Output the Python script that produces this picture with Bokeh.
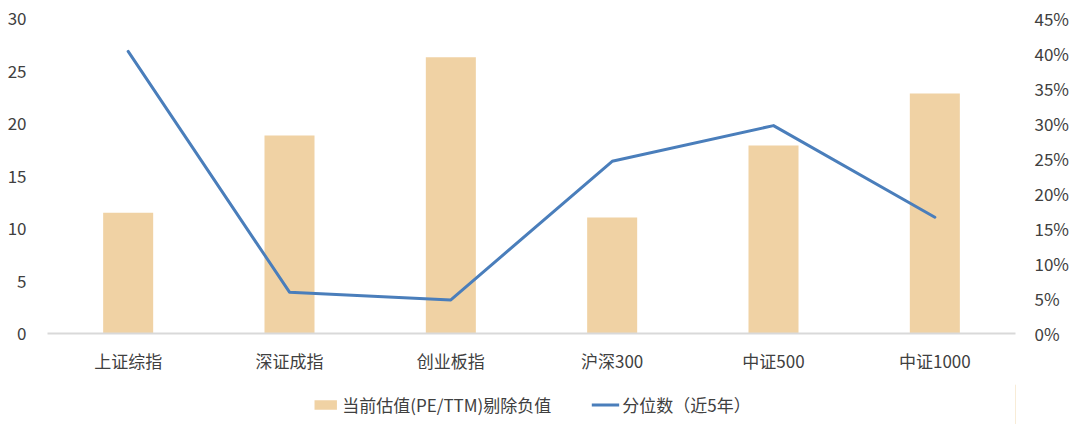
from bokeh.plotting import figure
from bokeh.layouts import column
from bokeh.models import (ColumnDataSource, Range1d, LinearAxis, FactorRange,
                          Legend, LegendItem, NumeralTickFormatter, FixedTicker)
from bokeh.embed import file_html
from bokeh.resources import INLINE

categories = ["上证综指", "深证成指", "创业板指", "沪深300", "中证500", "中证1000"]
pe_ttm = [11.5, 18.85, 26.3, 11.05, 17.9, 22.85]
percentile = [0.403, 0.059, 0.048, 0.246, 0.297, 0.166]
left_ticks = [0, 5, 10, 15, 20, 25, 30]
right_ticks = [0, 0.05, 0.10, 0.15, 0.20, 0.25, 0.30, 0.35, 0.40, 0.45]
bar_label = "当前估值(PE/TTM)剔除负值"
line_label = "分位数（近5年）"

FONT = "Noto Sans CJK SC"
BAR_COLOR = "#F0D2A4"
LINE_COLOR = "#4A7EBB"
TEXT_COLOR = "#404040"

src = ColumnDataSource(dict(cat=categories, pe=pe_ttm, pct=percentile))

p = figure(width=1072, height=384, x_range=FactorRange(*categories, range_padding=0),
           y_range=Range1d(0, 30), output_backend="svg", toolbar_location=None,
           min_border_left=47, min_border_right=56, min_border_top=18, min_border_bottom=51)
p.x_range.factor_padding = 0
p.extra_y_ranges = {"pct": Range1d(0, 0.45)}

bars = p.vbar(x="cat", top="pe", width=0.31, source=src, fill_color=BAR_COLOR, line_color=None)
line = p.line(x="cat", y="pct", source=src, y_range_name="pct", line_color=LINE_COLOR,
              line_width=3, line_join="round", line_cap="round")

p.yaxis.ticker = FixedTicker(ticks=left_ticks)
right = LinearAxis(y_range_name="pct", ticker=FixedTicker(ticks=right_ticks),
                   formatter=NumeralTickFormatter(format="0%"))
p.add_layout(right, "right")

for ax in [p.yaxis[0], right]:
    ax.axis_line_color = None
    ax.major_tick_line_color = None
    ax.minor_tick_line_color = None
    ax.major_label_text_font = FONT
    ax.major_label_text_font_size = "17px"
    ax.major_label_text_color = TEXT_COLOR
p.yaxis[0].major_label_standoff = 15
right.major_label_standoff = 13

p.xaxis.axis_line_color = "#D9D9D9"
p.xaxis.axis_line_width = 2
p.xaxis.major_tick_line_color = None
p.xaxis.minor_tick_line_color = None
p.xaxis.major_label_text_font = FONT
p.xaxis.major_label_text_font_size = "17px"
p.xaxis.major_label_text_color = TEXT_COLOR
p.xaxis.major_label_standoff = 14
p.xaxis.major_tick_in = 0
p.xaxis.major_tick_out = 0

p.xgrid.grid_line_color = None
p.ygrid.grid_line_color = None
p.outline_line_color = None

# legend strip below the chart (proxy glyphs sit outside the visible range)
lg = figure(width=1072, height=40, x_range=Range1d(0, 1), y_range=Range1d(0, 1),
            output_backend="svg", toolbar_location=None, min_border=0)
lg.axis.visible = False
lg.grid.visible = False
lg.outline_line_color = None
proxy = ColumnDataSource(dict(x=[5, 6], y=[5, 5]))
lbar = lg.vbar(x="x", top="y", width=0.1, source=proxy, fill_color=BAR_COLOR, line_color=None)
lline = lg.line(x="x", y="y", source=proxy, line_color=LINE_COLOR, line_width=3)

legend = Legend(items=[LegendItem(label=bar_label, renderers=[lbar]),
                       LegendItem(label=line_label, renderers=[lline])],
                orientation="horizontal", location="center",
                label_text_font=FONT, label_text_font_size="17px",
                label_text_color=TEXT_COLOR, glyph_width=28, glyph_height=12,
                spacing=40, label_standoff=3, border_line_color=None,
                background_fill_alpha=0, padding=2, margin=0)
lg.add_layout(legend, "center")

layout = column(p, lg, spacing=0)
open("out.html", "w").write(file_html(layout, INLINE))
